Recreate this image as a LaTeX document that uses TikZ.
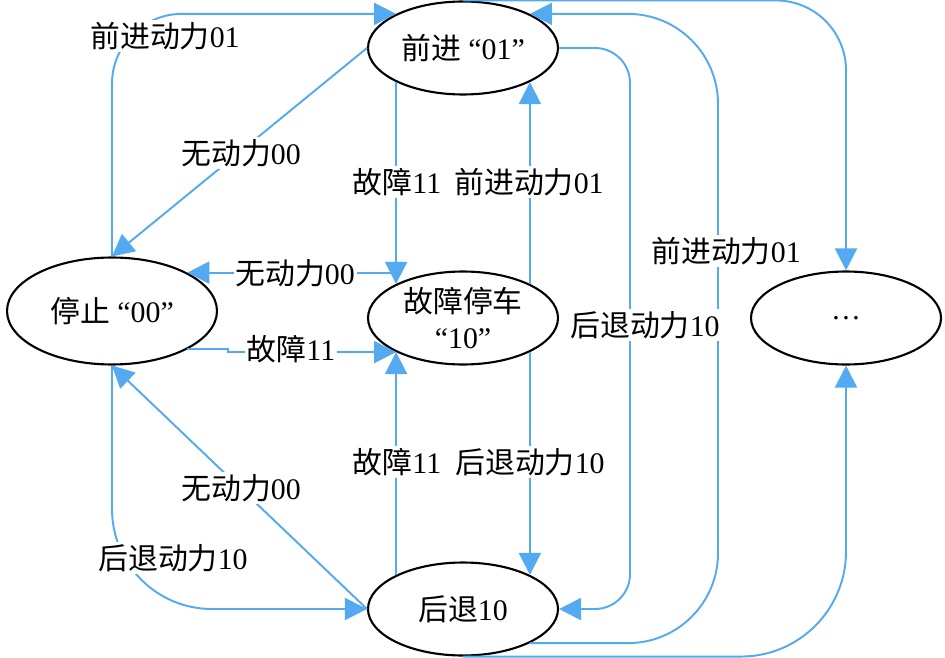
\documentclass[tikz,border=0pt]{standalone}
\usepackage{fontspec}
\setmainfont{Liberation Serif}
\newfontfamily\cjk{Noto Sans CJK SC}
\newcommand{\zh}[1]{{\cjk #1}}
\usetikzlibrary{arrows.meta,shapes.geometric}
\definecolor{linkblue}{RGB}{84,170,240}

\begin{document}
\begin{tikzpicture}[x=0.02cm, y=-0.02cm, font=\fontsize{17}{20.5}\selectfont,
        state/.style={draw, ellipse, line width=1.2pt, inner sep=0pt, minimum width=3.8cm, minimum height=1.86cm, align=center},
        link/.style={linkblue, line width=1.1pt, -{Triangle[length=0.44cm, width=0.44cm]}},
        lbl/.style={fill=white, inner sep=1pt}]
        \useasboundingbox (0,0) rectangle (945,658);

        % Nodes
        \node[state] (fwd) at (463,48) {\zh{前进} “01”};
        \node[state] (fault) at (463,318) {\zh{故障停车}\\“10”};
        \node[state] (back) at (463,609) {\zh{后退}10};
        \node[state, minimum width=4.2cm, minimum height=2.14cm] (stop) at (112,311) {\zh{停止} “00”};
        \node[state] (more) at (846,318) {\ldots};

        % Arrows
        \draw[link, rounded corners=1.4cm] (stop.north) |- (fwd.153);
        \draw[link] (fwd.west) -- (stop.north);
        \draw[link] (fwd.207) -- (fwd.207 |- fault.153);
        \draw[link] (fault.27) -- (fault.27 |- fwd.-27);
        \draw[link] (fwd.207 |- stop.27) -- (stop.27);
        \draw[link] (stop.-27) -- ++(41,0) |- (fault.207);
        \draw[link] (back.west) -- (stop.south);
        \draw[link, rounded corners=2cm] (stop.south) |- (back.west);
        \draw[link] (back.153) -- (back.153 |- fault.207);
        \draw[link] (fault.-27) -- (fault.-27 |- back.27);
        \draw[link, rounded corners=0.7cm] (fwd.east) -| (630,300) |- (back.east);
        \draw[link, rounded corners=1.8cm] (back.-27) -| (718,300) |- (fwd.27);
        \draw[link, rounded corners=1.4cm] (fwd.north) -| (more.north);
        \draw[link, rounded corners=2.1cm] (back.south) -| (more.south);

        % Labels
        \node[lbl] (stopfwd) at (165,36) {\zh{前进动力}01};
        \node[lbl] (fwdstop) at (241,153) {\zh{无动力}00};
        \node[lbl] (faultstop) at (295,273) {\zh{无动力}00};
        \node[lbl] (stopfault) at (291,349) {\zh{故障}11};
        \node[lbl] (backstop) at (241,488) {\zh{无动力}00};
        \node[lbl] (stopback) at (173,558) {\zh{后退动力}10};
        \node[lbl] (fwdfault) at (397,182) {\zh{故障}11};
        \node[lbl] (faultfwd) at (529,182) {\zh{前进动力}01};
        \node[lbl] (backfault) at (397,462) {\zh{故障}11};
        \node[lbl] (faultback) at (530,462) {\zh{后退动力}10};
        \node[lbl] (fwdback) at (645,325) {\zh{后退动力}10};
        \node[lbl] (backfwd) at (726,251) {\zh{前进动力}01};
\end{tikzpicture}
\end{document}
